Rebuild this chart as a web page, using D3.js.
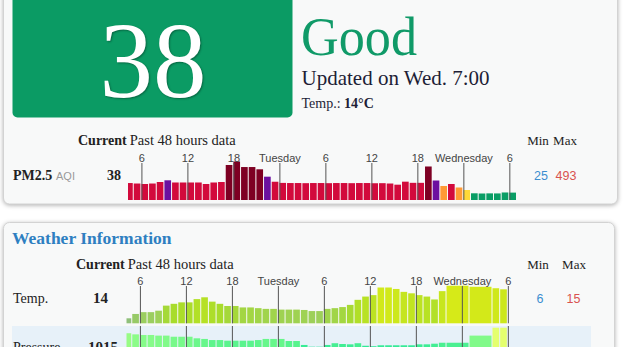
<!DOCTYPE html>
<html>
<head>
<meta charset="utf-8">
<script src="https://cdn.jsdelivr.net/npm/d3@7"></script>
<style>
  body { margin: 0; background: #fff; }
  svg { display: block; }
  .serif { font-family: "Liberation Serif", serif; }
  .sans { font-family: "Liberation Sans", Arial, sans-serif; }
  .tick text { font-family: "Liberation Sans", Arial, sans-serif; font-size: 11px; fill: #444; }
  .tick line { stroke: #555; }
</style>
</head>
<body>
<div id="chart"></div>
<script>

// AQI card
const aqiNow = 38;
const aqiLevel = "Good";
const updated = "Updated on Wed. 7:00";
const tempNow = 14;

// hours counted from Monday 0:00
const pmHours = d3.range(4, 55);
const pmValues = [178, 171, 164, 171, 193, 218, 186, 186, 186, 186, 164, 186, 193, 442, 493, 412, 412, 379, 271, 197,
                  180, 178, 178, 176, 178, 178, 176, 178, 178, 176, 178, 178, 175, 176,
                  171, 154, 198, 181, 181, 420, 215, 135, 164, 113, 76, 28, 25, 27, 26, 40, 38];
const pmMin = 25, pmMax = 493;

const wxHours = [4, 5, 6, 7, 8, 9, 10, 11, 12, 13, 14, 15, 16, 17, 18, 19, 20, 21, 22, 23, 24, 25, 26, 27, 28, 29,
                 30, 31, 32, 33, 34, 35, 36, 37, 38, 39, 40, 41, 42, 43, 44, 45, 46, 49, 52, 53];
const tempValues = [6.0, 7.2, 7.7, 7.7, 8.1, 9.5, 10.0, 10.4, 10.4, 11.3, 11.8, 10.6, 10.0, 9.4, 9.4, 9.0, 9.0, 8.8,
                    8.6, 8.6, 8.4, 8.4, 8.4, 8.3, 8.0, 8.0, 8.6, 8.8, 9.1, 9.7, 11.1, 12.0, 12.4, 14.5, 14.5, 14.1,
                    13.3, 12.9, 12.4, 12.0, 11.2, 13.5, 15.0, 14.7, 14.3, 14.0];
const pressValues = [1011.5, 1010.8, 1010.4, 1010.4, 1010.0, 1010.0, 1009.3, 1009.3, 1009.3, 1008.3, 1007.9, 1007.2,
                     1007.2, 1006.8, 1006.8, 1006.8, 1006.8, 1007.2, 1007.9, 1007.9, 1007.9, 1006.6, 1006.6, 1004.1,
                     1003.0, 1003.0, 1004.1, 1005.2, 1004.7, 1004.5, 1005.2, 1003.6, 1003.3, 1003.9, 1003.9, 1003.9,
                     1003.9, 1003.9, 1004.5, 1004.5, 1004.9, 1005.5, 1005.5, 1010.0, 1015.0, 1015.0];
const tempMin = 6, tempMax = 15, pressNow = 1015, pressMin = 1003, pressMax = 1015;

const tickHours = [6, 12, 18, 24, 30, 36, 42, 48, 54];
const dayNames = { 24: "Tuesday", 48: "Wednesday" };

const width = 633, height = 347;

const svg = d3.select("#chart")
    .append("svg")
    .attr("width", width)
    .attr("height", height);

// cards
svg.append("rect")
    .attr("x", 3.5).attr("y", -10).attr("width", 614).attr("height", 214)
    .attr("rx", 6)
    .attr("fill", "#f8f9f9").attr("stroke", "#d3d3d3")
    .style("filter", "drop-shadow(0px 1px 2px rgba(0,0,0,0.3))");

svg.append("rect")
    .attr("x", 3.5).attr("y", 222.5).attr("width", 611).attr("height", 140)
    .attr("rx", 6)
    .attr("fill", "#f8f9f9").attr("stroke", "#d3d3d3")
    .style("filter", "drop-shadow(0px 1px 2px rgba(0,0,0,0.3))");

// big AQI box
svg.append("rect")
    .attr("x", 12.5).attr("y", -5).attr("width", 280).attr("height", 122.5)
    .attr("rx", 5)
    .attr("fill", "#0b9b64");

svg.append("text")
    .attr("class", "serif")
    .attr("x", 153).attr("y", 96.5)
    .attr("text-anchor", "middle")
    .attr("font-size", "107px")
    .attr("fill", "#fff")
    .style("text-shadow", "1px 1px 2px rgba(0,0,0,0.35)")
    .text(aqiNow);

svg.append("text")
    .attr("class", "serif")
    .attr("x", 301).attr("y", 55)
    .attr("font-size", "55px")
    .attr("textLength", 116).attr("lengthAdjust", "spacingAndGlyphs")
    .attr("fill", "#109a68")
    .text(aqiLevel);

svg.append("text")
    .attr("class", "serif")
    .attr("x", 301.5).attr("y", 85)
    .attr("font-size", "21px")
    .attr("fill", "#1e1e36")
    .text(updated);

const tl = svg.append("text")
    .attr("class", "serif")
    .attr("x", 301.5).attr("y", 108)
    .attr("font-size", "14px")
    .attr("fill", "#1e1e36");
tl.append("tspan").text("Temp.: ");
tl.append("tspan").attr("font-weight", "bold").text(tempNow + "°C");

// header rows "Current Past 48 hours data"
function header(x, y) {
    const t = svg.append("text")
        .attr("class", "serif")
        .attr("x", x).attr("y", y)
        .attr("fill", "#222");
    t.append("tspan").attr("font-weight", "bold").attr("font-size", "14px").text("Current");
    t.append("tspan").attr("dx", 3).attr("font-size", "14.5px").text("Past 48 hours data");
}
header(78, 145);
header(76, 268.5);

// min / max columns
function minMax(xMin, xMax, y, lo, hi, size, sans) {
    svg.append("text").attr("class", sans ? "sans" : "serif")
        .attr("x", xMin).attr("y", y).attr("text-anchor", "middle")
        .attr("font-size", size).attr("fill", sans ? "#3b8ed0" : "#222").text(lo);
    svg.append("text").attr("class", sans ? "sans" : "serif")
        .attr("x", xMax).attr("y", y).attr("text-anchor", "middle")
        .attr("font-size", size).attr("fill", sans ? "#d9534f" : "#222").text(hi);
}
minMax(538, 565, 145, "Min", "Max", "13px", false);
minMax(541, 566, 179.5, pmMin, pmMax, "12.5px", true);
minMax(538, 574, 268.5, "Min", "Max", "13px", false);
minMax(540, 573.5, 303, tempMin, tempMax, "12.5px", true);
minMax(538, 574, 352, pressMin, pressMax, "12.5px", true);

// row labels
function rowLabel(name, value, y, nameSize, valueX, valueSize) {
    svg.append("text").attr("class", "serif")
        .attr("x", 13).attr("y", y)
        .attr("font-size", nameSize).attr("fill", "#222")
        .attr("font-weight", name === "PM2.5" ? "bold" : "normal")
        .text(name);
    svg.append("text").attr("class", "serif")
        .attr("x", valueX).attr("y", y)
        .attr("font-size", valueSize).attr("font-weight", "bold").attr("fill", "#222")
        .text(value);
}
rowLabel("PM2.5", aqiNow, 179.5, "14px", 107, "14px");
svg.append("text").attr("class", "sans")
    .attr("x", 56).attr("y", 179.5)
    .attr("font-size", "11px").attr("fill", "#9a9a9a")
    .text("AQI");

svg.append("text").attr("class", "serif")
    .attr("x", 12).attr("y", 244)
    .attr("font-size", "17.5px").attr("font-weight", "bold")
    .attr("fill", "#2e7fc1")
    .text("Weather Information");

// pressure row band
svg.append("rect")
    .attr("x", 12).attr("y", 326).attr("width", 579).attr("height", 40)
    .attr("fill", "#e7f1f9");

rowLabel("Temp.", tempNow, 303, "14px", 93, "15px");
rowLabel("Pressure", pressNow, 352, "14px", 88, "15px");

// scales
const xPM = d3.scaleLinear().domain([4.25, 55]).range([128, 517]);
const xWx = d3.scaleLinear().domain([4.25, 55]).range([126.5, 515.5]);

const yPM = d3.scaleLinear().domain([pmMin, pmMax]).range([193.5, 161.5]);
const yTemp = d3.scaleLinear().domain([tempMin, tempMax]).range([318.3, 285.7]);
const yPress = d3.scaleLinear().domain([pressMin, pressMax]).range([346.7, 327.7]);

const aqiColor = d3.scaleThreshold()
    .domain([51, 101, 151, 201, 301])
    .range(["#0a9e66", "#ffd938", "#ff9a35", "#d20a3c", "#6c10a0", "#7e0023"]);
const tempColor = d3.scaleLinear()
    .domain([6, 8, 10, 12, 15])
    .range(["#8fc07a", "#9dd05a", "#a8dc2c", "#b8e224", "#d6ea18"]);
const pressColor = d3.scaleLinear()
    .domain([1003, 1007, 1011, 1015])
    .range(["#2be89a", "#5cf58c", "#8dfc88", "#e4ff6e"]);

function drawBars(hours, values, end, x, y, base, color) {
    const data = hours.map((h, i) => ({
        h: h,
        v: values[i],
        next: i < hours.length - 1 ? hours[i + 1] : end
    }));
    const x0 = x.domain()[0];
    svg.append("g")
        .selectAll("rect")
        .data(data)
        .enter()
        .append("rect")
        .attr("x", d => x(Math.max(d.h, x0)))
        .attr("width", d => x(d.next) - x(Math.max(d.h, x0)) - 1)
        .attr("y", d => y(d.v))
        .attr("height", d => base - y(d.v))
        .attr("fill", d => color(d.v));
}

drawBars(pmHours, pmValues, 55, xPM, yPM, 200, aqiColor);
drawBars(wxHours, tempValues, 54, xWx, yTemp, 323.3, tempColor);
drawBars(wxHours, pressValues, 54, xWx, yPress, 370, pressColor);

// hour ticks
const hourFormat = h => dayNames[h] || String(h % 24);

function ticks(x, y, len, labels) {
    const g = svg.append("g")
        .attr("transform", `translate(0,${y})`)
        .call(d3.axisTop(x)
            .tickValues(tickHours)
            .tickSize(-len)
            .tickPadding(1)
            .tickFormat(labels ? hourFormat : ""));
    g.select(".domain").remove();
}
ticks(xPM, 163, 37, true);
ticks(xWx, 286, 37.3, true);
ticks(xWx, 326, 30, false);

</script>
</body>
</html>
